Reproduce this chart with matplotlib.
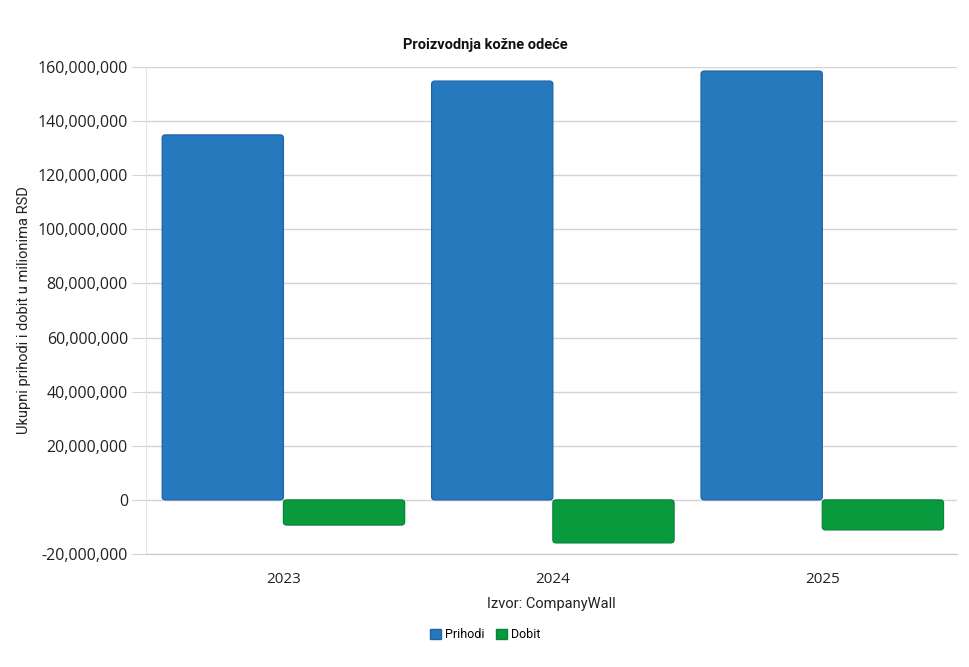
import numpy as np
import matplotlib
matplotlib.use("Agg")
import matplotlib.pyplot as plt
from matplotlib.ticker import FuncFormatter, MultipleLocator
from matplotlib.patches import FancyBboxPatch

# data
years = ["2023", "2024", "2025"]
prihodi = [134.9e6, 154.8e6, 158.5e6]
dobit = [-9.3e6, -15.9e6, -11.1e6]

blue = "#2779bd"
blue_edge = "#1d62a8"
green = "#0a9a3e"
green_edge = "#08843a"

fig = plt.figure(figsize=(9.7, 6.67), dpi=100)
ax = fig.add_axes([146 / 970, 1 - 554 / 667, (957 - 146) / 970, (554 - 67) / 667])

x = np.arange(len(years))
w = 0.45
ax.set_xlim(-0.51, 2.5)
ax.set_ylim(-20e6, 160e6)

# data units per pixel in y over data units per pixel in x
aspect = (180e6 / 487) / (3.01 / 811)

def rounded_bars(bars, face, edge):
    # swap plain rectangles for slightly rounded ones
    for b in bars:
        bx, by = b.get_x(), b.get_y()
        bw, bh = b.get_width(), b.get_height()
        if bh < 0:
            by, bh = by + bh, -bh
        b.remove()
        p = FancyBboxPatch((bx, by), bw, bh,
                           boxstyle="round,pad=0,rounding_size=0.012",
                           mutation_aspect=aspect,
                           facecolor=face, edgecolor=edge, linewidth=0.9, zorder=3)
        ax.add_patch(p)

b1 = ax.bar(x - w / 2, prihodi, w, color=blue, zorder=3)
b2 = ax.bar(x + w / 2, dobit, w, color=green, zorder=3)
rounded_bars(b1, blue, blue_edge)
rounded_bars(b2, green, green_edge)

ax.yaxis.set_major_locator(MultipleLocator(20e6))
ax.yaxis.set_major_formatter(FuncFormatter(lambda v, p: f"{int(round(v)):,}"))
ax.set_xticks(x)
ax.set_xticklabels(years)

ax.grid(axis="y", color="#d3d3d3", linewidth=1, zorder=0)
for s in ["top", "right"]:
    ax.spines[s].set_visible(False)
ax.spines["left"].set_color("#e3e3e3")
ax.spines["bottom"].set_color("#c8c8c8")
ax.tick_params(axis="y", length=10, color="#d3d3d3", labelsize=11.5, pad=3,
               labelcolor="#222222")
ax.tick_params(axis="x", length=0, labelsize=11, pad=13, labelcolor="#222222")
for t in ax.get_yticklabels() + ax.get_xticklabels():
    t.set_fontfamily("Open Sans")

fig.text(485 / 970, 1 - 45 / 667, "Proizvodnja kožne odeće", fontsize=10.5,
         fontweight="bold", fontfamily="Roboto", color="#111111",
         ha="center", va="center")
ax.set_ylabel("Ukupni prihodi i dobit u milionima RSD", fontsize=10.5,
              fontfamily="Roboto", labelpad=5, color="#222222")
ax.set_xlabel("Izvor: CompanyWall", fontsize=10.5, fontfamily="Roboto",
              labelpad=7, color="#222222")

handles = [FancyBboxPatch((0, 0), 1, 1, boxstyle="round,pad=0,rounding_size=0.3",
                          facecolor=blue, edgecolor=blue_edge),
           FancyBboxPatch((0, 0), 1, 1, boxstyle="round,pad=0,rounding_size=0.3",
                          facecolor=green, edgecolor=green_edge)]
fig.legend(handles, ["Prihodi", "Dobit"], loc="center", bbox_to_anchor=(485 / 970, 1 - 635 / 667),
           ncol=2, frameon=False, handlelength=0.9, handleheight=0.9,
           handletextpad=0.3, columnspacing=0.9, prop={"family": "Roboto", "size": 9})

fig.savefig("out.png", dpi=100)
